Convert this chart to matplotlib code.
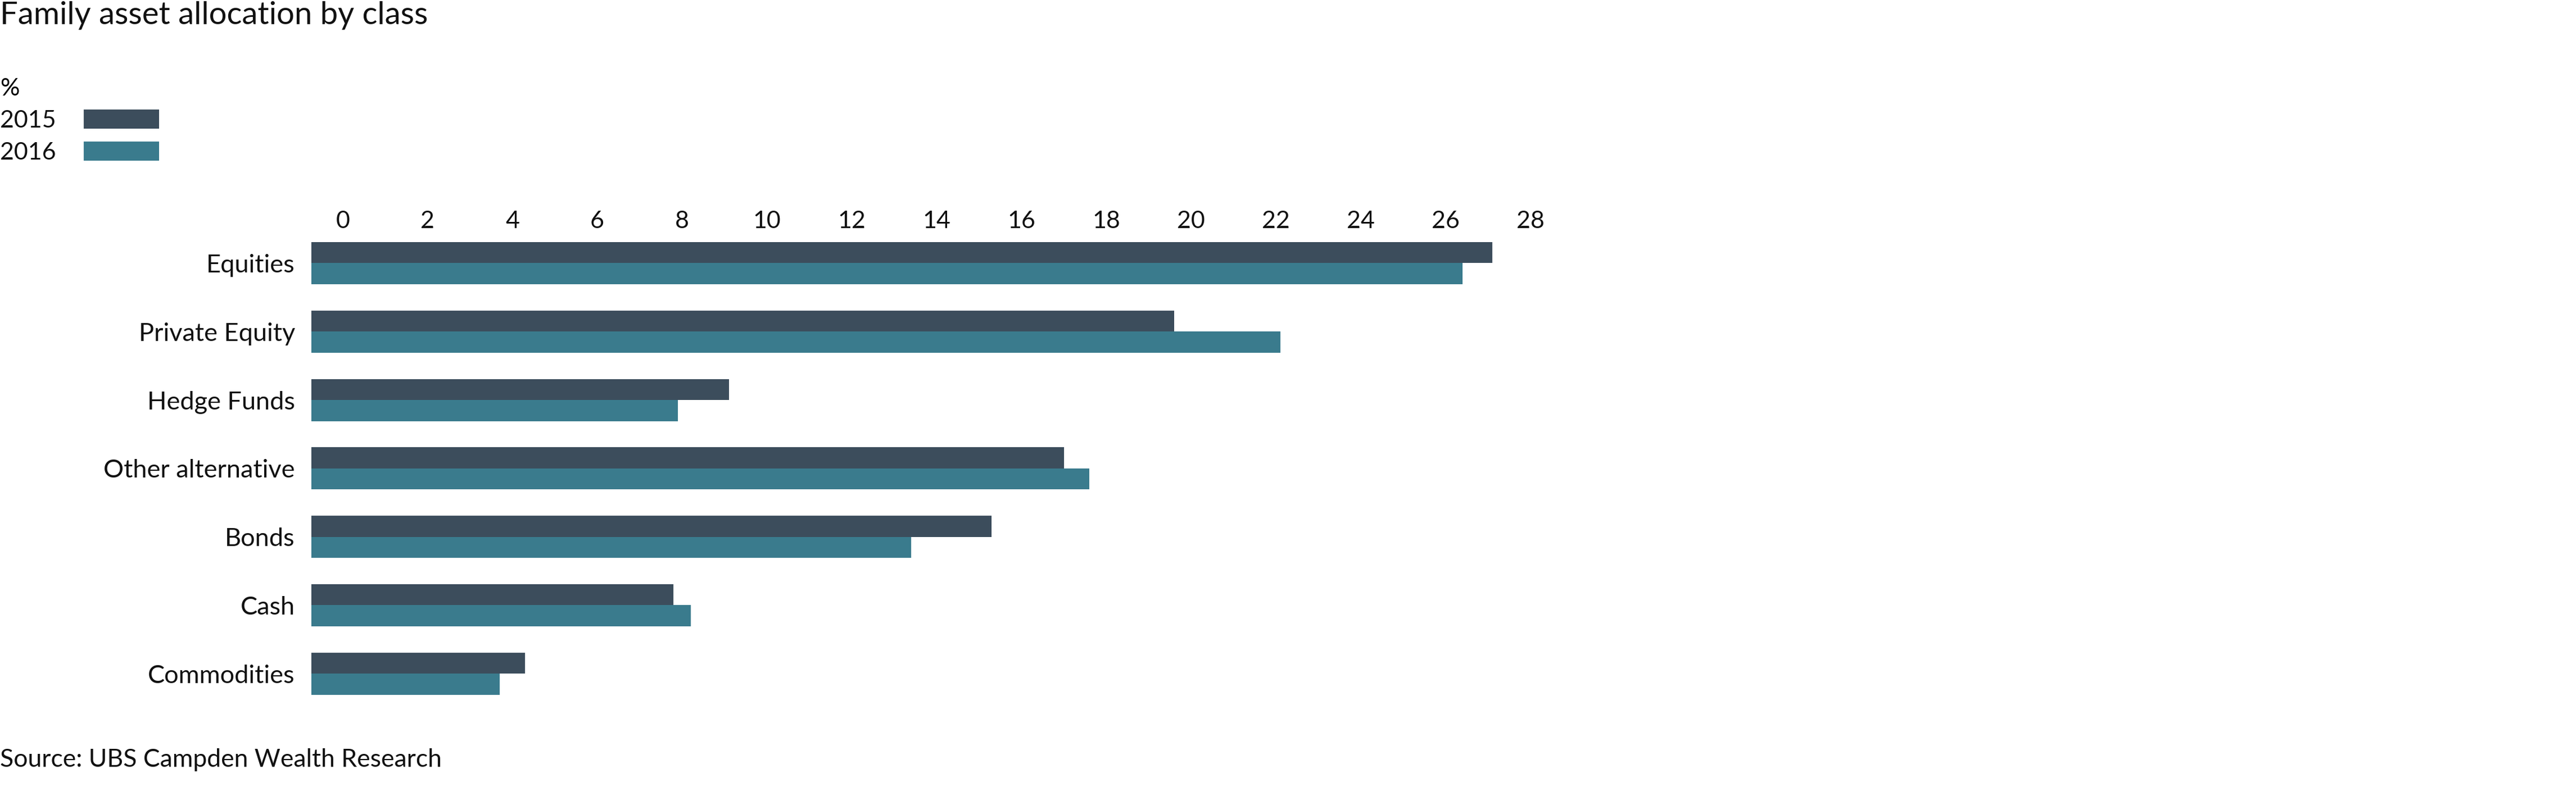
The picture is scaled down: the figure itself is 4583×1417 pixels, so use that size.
import numpy as np
import matplotlib
matplotlib.use('Agg')
import matplotlib.pyplot as plt
from matplotlib.patches import Patch

categories = ['Equities', 'Private Equity', 'Hedge Funds', 'Other alternative',
              'Bonds', 'Cash', 'Commodities']
values_2015 = [27.1, 19.6, 9.1, 17.0, 15.3, 7.8, 4.3]
values_2016 = [26.4, 22.1, 7.9, 17.6, 13.4, 8.2, 3.7]
series_labels = ['2015', '2016']
colors = ['#3c4d5c', '#3a7b8d']
x_ticks = list(range(0, 29, 2))

title = 'Family asset allocation by class'
unit_label = '%'
source = 'Source: UBS Campden Wealth Research'

plt.rcParams['font.family'] = ['Lato', 'DejaVu Sans']

W, H, dpi = 4583, 1417, 100
fig = plt.figure(figsize=(W / dpi, H / dpi), dpi=dpi)

# bars begin a little left of the 0 label, as in the original
axis_start = -0.74
x_max = 30
px_per_unit = 75.46
left_px, top_px, bottom_px = 554, 407.6, 1260
ax = fig.add_axes([left_px / W, 1 - bottom_px / H,
                   (x_max - axis_start) * px_per_unit / W,
                   (bottom_px - top_px) / H])

y = np.arange(len(categories))
h = 0.308
ax.barh(y - h / 2, np.array(values_2015) - axis_start, left=axis_start,
        height=h, color=colors[0], label=series_labels[0])
ax.barh(y + h / 2, np.array(values_2016) - axis_start, left=axis_start,
        height=h, color=colors[1], label=series_labels[1])

ax.set_xlim(axis_start, x_max)
ax.set_ylim(len(categories) - 0.5, -0.5)
ax.set_xticks(x_ticks)
ax.set_yticks(y, categories)
ax.xaxis.tick_top()
ax.tick_params(length=0, colors='#111111')
ax.tick_params(axis='x', labelsize=31, pad=-4)
ax.tick_params(axis='y', labelsize=32.5, pad=21)
for s in ax.spines.values():
    s.set_visible(False)

fig.text(0, 1 - 43 / H, title, ha='left', va='baseline', fontsize=40.5,
         color='#111111')
fig.text(0, 1 - 1365 / H, source, ha='left', va='baseline', fontsize=32,
         color='#111111')

handles = [Patch(facecolor=c) for c in colors]
leg = fig.legend(handles, series_labels, loc='upper left',
                 bbox_to_anchor=(0, 1 - 139 / H), markerfirst=False,
                 frameon=False, title=unit_label, alignment='left',
                 fontsize=31, title_fontsize=31, handlelength=3.1,
                 handleheight=0.86, handletextpad=1.15, borderpad=0,
                 borderaxespad=0, labelspacing=0.41)
for t in leg.get_texts():
    t.set_color('#111111')

fig.savefig('out.png', dpi=dpi)
